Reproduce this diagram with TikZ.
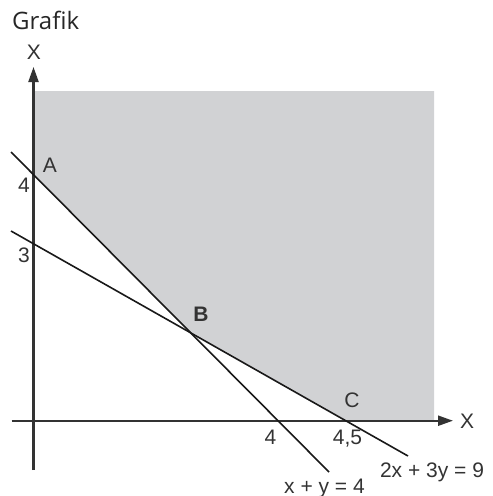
\documentclass[tikz,border=0pt]{standalone}
\usepackage{fontspec}
\newfontfamily\arialfont{Liberation Sans}
\newfontfamily\titelfont{Open Sans}
\usepackage{tikz}
\usetikzlibrary{arrows.meta}
\definecolor{zulaessig}{RGB}{209,210,212}

\begin{document}
\begin{tikzpicture}[
	x=1pt, y=-1pt,
	achse/.style={
		line width=2.2pt,
		draw=black!80,
		-{Triangle[length=15pt,width=10pt]}
	},
	gerade/.style={
		line width=1.6pt,
		draw=black!90
	},
	beschr/.style={
		font=\arialfont\fontsize{21}{25}\selectfont,
		text=black!80,
		inner sep=0pt,
		anchor=base
	}
	]
	\useasboundingbox (0,0) rectangle (493,496);
	% Achsen und Geraden
	\coordinate (ustart) at (33.5,470);
	\coordinate (uende) at (33.5,67);
	\coordinate (xstart) at (11.5,420.7);
	\coordinate (xende) at (453,420.7);
	\coordinate (g1a) at (11,152);
	\coordinate (g1b) at (329,472);
	\coordinate (g2a) at (11,231);
	\coordinate (g2b) at (408,456);
	\coordinate (A) at (intersection of g1a--g1b and ustart--uende);
	\coordinate (B) at (intersection of g1a--g1b and g2a--g2b);
	\coordinate (C) at (intersection of g2a--g2b and xstart--xende);
	\coordinate (ol) at (33.5,91);
	\coordinate (or) at (434,91);
	\coordinate (ur) at (434,420.7);
	% zulaessiger Bereich
	\fill[zulaessig] (ol) -- (or) -- (ur) -- (C) -- (B) -- (A) -- cycle;
	\draw[achse] (ustart) -- (uende);
	\draw[achse] (xstart) -- (xende);
	\draw[gerade] (g1a) -- (g1b);
	\draw[gerade] (g2a) -- (g2b);
	% Beschriftung
	\node[font=\titelfont\fontsize{24}{29}\selectfont, text=black!85,
	inner sep=0pt, anchor=base west] (titel) at (12,29) {Grafik};
	\node[beschr] (xoben) at (34,59) {X};
	\node[beschr, anchor=base west] (xrechts) at (460,428) {X};
	\node[beschr] (lA) at (50,172) {A};
	\node[beschr, font=\arialfont\bfseries\fontsize{21}{25}\selectfont] (lB) at (201,321) {B};
	\node[beschr] (lC) at (352,407) {C};
	\node[beschr] (vier) at (24,192) {4};
	\node[beschr] (drei) at (24,262) {3};
	\node[beschr] (xvier) at (270.5,444) {4};
	\node[beschr] (xvierf) at (347.5,444) {4,5};
	\node[beschr] (glsz) at (432,477) {2x + 3y = 9};
	\node[beschr] (glse) at (324.5,493) {x + y = 4};
\end{tikzpicture}
\end{document}
